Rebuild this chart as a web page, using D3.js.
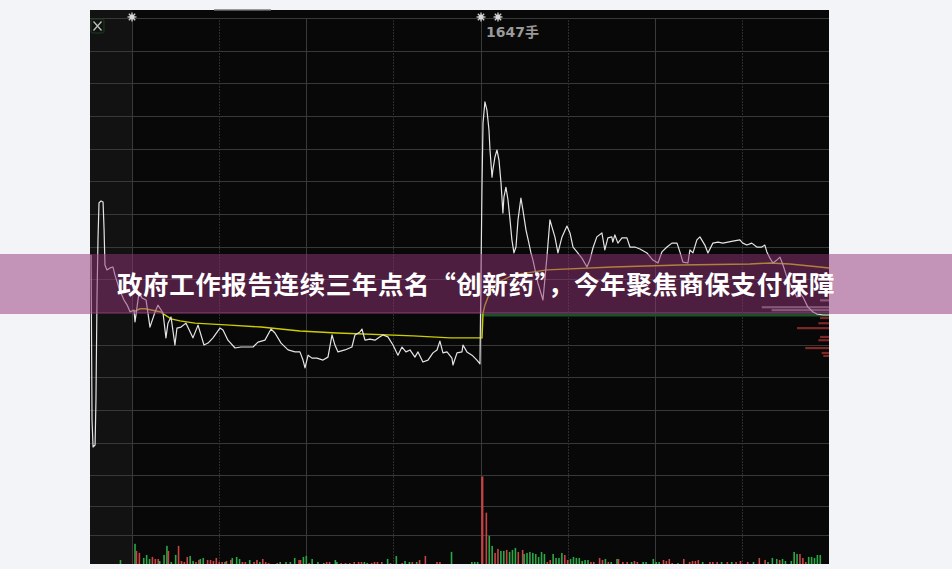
<!DOCTYPE html>
<html lang="zh-CN">
<head>
<meta charset="utf-8">
<script src="https://cdn.jsdelivr.net/npm/d3@7"></script>
<style>
body { margin: 0; background: #f3f4f8; }
svg { display: block; }
</style>
</head>
<body>
<div id="chart"></div>
<script>
// minute index (0 = first minute of day 1, 240 = day break), price as % change
var preTicks = [[-28.3,-0.25],[-27.6,-5.30],[-26.9,-6.13],[-25.5,-6.07],[-24.9,-4.69],[-24.2,-1.63],[-23.5,0.21],[-22.8,1.34],[-21.4,1.40],[-20.0,1.37],[-19.3,0.51],[-18.7,-0.56],[-17.3,-0.71],[-15.2,-0.65],[-13.2,-0.62],[-11.8,-0.87],[-9.7,-1.17],[-7.7,-1.42],[-5.6,-1.63],[-3.5,-1.78],[-1.4,-1.99]];

var day1Ticks = [[1.3,-1.94],[2.0,-2.30],[4.8,-1.39],[6.8,-1.57],[9.6,-1.63],[12.3,-2.46],[15.8,-2.00],[17.8,-1.79],[21.3,-2.03],[23.3,-2.79],[24.7,-2.34],[26.8,-2.15],[29.5,-3.01],[30.9,-2.49],[33.7,-2.46],[37.1,-2.34],[41.9,-2.79],[45.4,-2.40],[49.5,-3.01],[52.3,-2.95],[55.7,-2.79],[60.5,-2.49],[62.6,-2.55],[66.0,-2.86],[70.9,-3.10],[75.0,-3.07],[79.8,-3.07],[83.3,-3.07],[86.7,-2.92],[91.5,-2.86],[95.7,-2.52],[98.4,-2.64],[102.6,-2.95],[107.4,-3.16],[112.2,-3.22],[115.6,-3.22],[117.7,-3.47],[119.1,-3.71],[121.2,-3.32],[123.9,-3.41],[127.3,-3.41],[131.5,-3.47],[134.9,-3.38],[137.7,-2.70],[139.7,-3.01],[141.8,-3.22],[146.6,-3.16],[151.4,-3.07],[153.5,-2.70],[156.9,-2.61],[158.3,-2.52],[160.4,-2.86],[163.8,-2.83],[167.3,-2.86],[170.7,-2.76],[172.8,-2.70],[176.2,-2.76],[179.7,-3.01],[183.1,-3.32],[185.9,-3.07],[188.6,-3.22],[191.4,-3.16],[194.8,-3.38],[196.9,-3.22],[200.3,-3.53],[203.8,-3.47],[207.2,-3.25],[210.0,-3.16],[212.0,-2.89],[214.1,-3.25],[216.9,-3.22],[220.3,-3.41],[221.0,-3.62],[223.8,-3.25],[227.2,-3.22],[227.9,-3.01],[230.6,-3.22],[234.1,-3.32],[237.5,-3.47],[239.6,-3.59]];

var day2Ticks = [[241.0,1.88],[241.7,3.79],[243.0,4.43],[244.4,4.18],[245.8,3.57],[246.5,2.96],[247.9,2.13],[248.5,2.35],[249.9,2.74],[251.3,2.96],[252.7,2.65],[254.1,1.95],[255.4,1.03],[256.1,1.52],[257.5,1.82],[258.9,1.43],[260.3,0.82],[261.6,0.21],[263.0,-0.19],[264.4,-0.01],[265.8,0.82],[267.8,1.49],[269.2,1.12],[271.3,0.51],[273.3,0.11],[274.7,-0.19],[276.1,-0.41],[279.5,-1.11],[283.0,-1.63],[285.7,-0.32],[287.8,0.82],[289.2,0.60],[291.2,0.30],[293.3,-0.19],[296.1,0.30],[299.5,0.63],[301.6,0.42],[303.7,-0.01],[306.4,-0.16],[309.8,-0.35],[313.3,-0.62],[315.3,-0.41],[317.4,-0.04],[320.1,0.30],[323.6,0.42],[325.6,-0.10],[327.7,0.27],[330.4,0.30],[331.1,0.14],[332.5,0.36],[334.6,0.11],[337.4,0.27],[340.8,0.27],[342.9,-0.01],[346.3,-0.01],[349.8,-0.07],[354.6,-0.19],[358.7,-0.41],[362.2,-0.50],[364.9,-0.16],[368.4,-0.01],[371.8,0.11],[375.3,0.11],[377.3,-0.16],[379.4,-0.47],[382.8,-0.50],[384.2,-0.10],[386.3,-0.19],[389.0,0.21],[391.1,0.30],[394.5,0.05],[396.6,-0.19],[400.0,0.11],[403.5,0.14],[406.9,0.11],[410.3,0.14],[413.8,0.17],[418.6,0.21],[420.6,0.11],[423.4,0.05],[426.8,0.11],[430.3,-0.01],[433.7,-0.01],[435.8,0.05],[437.2,-0.16],[439.3,-0.35],[441.4,-0.50],[444.1,-0.41],[446.2,-0.32],[448.3,-0.56],[451.0,-0.93],[454.5,-1.24],[457.9,-1.54],[460.0,-1.42],[462.1,-1.54],[465.5,-1.85],[469.0,-2.00],[471.7,-2.06],[475.9,-2.09],[480.0,-2.09]];

var avgLine = [[1.3,-1.99],[5.4,-1.90],[8.9,-1.90],[19.2,-1.99],[26.8,-2.21],[33.0,-2.27],[43.3,-2.34],[67.4,-2.40],[88.8,-2.46],[115.6,-2.58],[141.1,-2.64],[193.5,-2.73],[219.0,-2.79],[239.6,-2.79],[241.0,-2.79],[241.7,-2.03],[243.0,-1.79],[246.5,-1.39],[251.3,-1.11],[262.3,-0.87],[285.7,-0.71],[331.1,-0.62],[377.3,-0.56],[425.5,-0.53],[439.3,-0.50],[453.1,-0.53],[466.9,-0.59],[480,-0.65]];

// [minute, volume in 手, r = up / g = down]
var volBars = [[-8,76,"g"],
[2,380,"g"],[3,247,"r"],[5,209,"r"],[8,114,"g"],[10,171,"g"],[12,95,"g"],[14,133,"r"],[16,95,"r"],[18,95,"r"],[19,57,"g"],[22,171,"g"],[24,342,"g"],[25,247,"r"],[27,38,"g"],[30,171,"g"],[32,342,"r"],[34,57,"r"],[36,38,"r"],[38,133,"r"],[40,152,"g"],[42,57,"g"],[44,38,"r"],[46,76,"r"],[47,95,"g"],[49,114,"g"],[52,76,"r"],[54,76,"r"],[56,57,"r"],[58,114,"r"],[60,38,"r"],[62,38,"r"],[64,38,"g"],[65,57,"r"],[68,76,"r"],[69,114,"g"],[72,133,"g"],[74,95,"g"],[76,38,"r"],[78,38,"r"],[81,76,"g"],[84,38,"r"],[86,76,"r"],[88,38,"g"],[90,95,"r"],[92,38,"r"],[94,19,"r"],[100,19,"r"],[102,38,"g"],[106,38,"g"],[109,38,"g"],[112,114,"g"],[115,76,"r"],[116,76,"r"],[118,133,"g"],[120,152,"g"],[122,19,"r"],[124,95,"g"],[128,38,"g"],[132,19,"g"],[134,38,"r"],[136,38,"r"],[140,76,"g"],[141,38,"g"],[144,19,"r"],[147,19,"r"],[150,19,"r"],[153,38,"r"],[156,38,"r"],[158,38,"r"],[160,38,"g"],[162,19,"g"],[165,19,"r"],[167,38,"r"],[169,38,"r"],[172,38,"r"],[176,95,"g"],[178,19,"r"],[182,152,"g"],[186,19,"r"],[188,57,"g"],[191,38,"g"],[193,38,"r"],[196,38,"g"],[198,76,"r"],[202,152,"r"],[210,38,"r"],[212,38,"r"],[220,228,"g"],[234,38,"g"],[236,38,"g"],[238,38,"g"],
[241,1647,"r"],[244,966,"r"],[246,530,"g"],[248,341,"g"],[250,208,"r"],[252,284,"r"],[254,246,"g"],[256,246,"g"],[258,265,"r"],[260,227,"g"],[262,265,"g"],[264,303,"g"],[266,227,"r"],[269,265,"r"],[270,189,"g"],[272,208,"g"],[274,227,"g"],[276,208,"g"],[278,189,"g"],[280,133,"g"],[282,227,"g"],[284,189,"g"],[286,38,"r"],[288,76,"r"],[290,189,"g"],[292,114,"g"],[294,114,"g"],[296,208,"g"],[298,170,"r"],[300,76,"r"],[302,95,"g"],[304,133,"g"],[306,114,"g"],[308,114,"g"],[310,57,"g"],[312,76,"g"],[314,76,"g"],[316,38,"r"],[318,38,"r"],[322,114,"r"],[324,76,"r"],[326,95,"g"],[328,38,"r"],[330,38,"g"],[334,95,"g"],[335,95,"r"],[338,38,"r"],[341,38,"r"],[344,38,"g"],[346,57,"r"],[348,38,"r"],[352,38,"g"],[354,38,"g"],[359,95,"g"],[361,38,"g"],[363,38,"g"],[366,76,"r"],[368,57,"r"],[370,95,"r"],[372,19,"r"],[376,19,"g"],[380,95,"r"],[384,38,"r"],[386,57,"r"],[388,57,"r"],[390,76,"r"],[393,38,"g"],[398,38,"r"],[400,38,"r"],[403,38,"r"],[406,38,"g"],[410,38,"r"],[413,38,"g"],[416,38,"r"],[419,57,"r"],[424,38,"r"],[428,38,"g"],[432,114,"r"],[436,76,"r"],[438,38,"g"],[441,114,"g"],[444,95,"g"],[446,76,"r"],[448,95,"g"],[450,57,"g"],[454,57,"g"],[456,227,"g"],[458,189,"g"],[460,189,"r"],[462,114,"r"],[464,38,"r"],[466,133,"g"],[468,133,"g"],[470,114,"g"],[472,170,"g"],[474,170,"g"]];

// chip distribution at the right edge: [price %, share, kind]
var chipLevels = [[-1.64,0.11,"gray"],[-1.85,0.82,"gray"],[-1.94,0.70,"gray"],[-2.18,0.11,"red"],[-2.34,0.13,"red"],[-2.49,0.39,"red"],[-2.76,0.11,"red"],[-2.86,0.13,"red"],[-3.10,0.29,"red"],[-3.25,0.09,"red"],[-3.34,0.07,"red"]];

var lastPrice = -2.06;
var markerTimes = [0, 240, 252];
var peakVolLabel = "1647手";
var titleText = "政府工作报告连续三年点名“创新药”，今年聚焦商保支付保障";

var width = 952, height = 569;
var plotLeft = 90, plotRight = 829, plotTop = 10, plotBottom = 564;

var svg = d3.select("#chart").append("svg")
    .attr("width", width)
    .attr("height", height);

var x = d3.scaleLinear().domain([-29, 480]).range([plotLeft, plotRight]);
var y = d3.scaleLinear().domain([-7, 7]).range([475.4, 18]);
var vy = d3.scaleLinear().domain([0, 1647]).range([plotBottom, 476.5]);
var chipScale = d3.scaleLinear().domain([0, 1]).range([0, 82]);

// background
svg.append("rect")
    .attr("x", plotLeft).attr("y", plotTop)
    .attr("width", plotRight - plotLeft).attr("height", plotBottom - plotTop)
    .attr("fill", "#080808");
svg.append("rect")
    .attr("x", plotLeft).attr("y", plotTop)
    .attr("width", x(0) - plotLeft).attr("height", plotBottom - plotTop)
    .attr("fill", "#121212");
svg.append("rect")
    .attr("x", 214).attr("y", 9)
    .attr("width", 57).attr("height", 1.5)
    .attr("fill", "#9a9a9e");

// horizontal grid
svg.selectAll(".hgrid")
    .data(d3.range(-7, 8))
    .enter().append("line")
    .attr("x1", plotLeft).attr("x2", plotRight)
    .attr("y1", function(d) { return Math.round(y(d)) + 0.5; })
    .attr("y2", function(d) { return Math.round(y(d)) + 0.5; })
    .attr("stroke", "#383838")
    .attr("stroke-width", 1);

svg.selectAll(".vgridv")
    .data([1647 / 3, 1647 * 2 / 3])
    .enter().append("line")
    .attr("x1", plotLeft).attr("x2", plotRight)
    .attr("y1", function(d) { return Math.round(vy(d)) + 0.5; })
    .attr("y2", function(d) { return Math.round(vy(d)) + 0.5; })
    .attr("stroke", "#383838");

// vertical grid
var solidTimes = [0, 120, 240, 360];
var dottedTimes = [60, 180, 300, 420];
svg.selectAll(".vsolid")
    .data(solidTimes)
    .enter().append("line")
    .attr("x1", function(d) { return Math.round(x(d)) + 0.5; })
    .attr("x2", function(d) { return Math.round(x(d)) + 0.5; })
    .attr("y1", 18).attr("y2", plotBottom)
    .attr("stroke", "#3a3a3a");
svg.selectAll(".vdot")
    .data(dottedTimes)
    .enter().append("line")
    .attr("x1", function(d) { return Math.round(x(d)) + 0.5; })
    .attr("x2", function(d) { return Math.round(x(d)) + 0.5; })
    .attr("y1", 20).attr("y2", plotBottom)
    .attr("stroke", "#2c2c2c")
    .attr("stroke-dasharray", "2,1");

// volume bars
svg.selectAll(".vol")
    .data(volBars)
    .enter().append("rect")
    .attr("x", function(d) { return x(d[0]) - 0.8; })
    .attr("width", function(d) { return d[1] > 1000 ? 2.2 : 1.6; })
    .attr("y", function(d) { return vy(d[1]); })
    .attr("height", function(d) { return plotBottom - vy(d[1]); })
    .attr("fill", function(d) { return d[2] === "r" ? "#c84444" : "#2aa846"; });

// chip distribution
svg.selectAll(".chip")
    .data(chipLevels)
    .enter().append("rect")
    .attr("x", function(d) { return plotRight - chipScale(d[1]); })
    .attr("width", function(d) { return chipScale(d[1]); })
    .attr("y", function(d) { return y(d[0]) - 1; })
    .attr("height", 2.2)
    .attr("fill", function(d) { return d[2] === "red" ? "#7e2828" : "#7a7a7a"; });

// last price band
svg.append("line")
    .attr("x1", x(240)).attr("x2", plotRight)
    .attr("y1", y(lastPrice) + 1).attr("y2", y(lastPrice) + 1)
    .attr("stroke", "#1b5229")
    .attr("stroke-width", 3);

var line = d3.line()
    .x(function(d) { return x(d[0]); })
    .y(function(d) { return y(d[1]); });

svg.append("path")
    .datum(avgLine)
    .attr("d", line)
    .attr("fill", "none")
    .attr("stroke", "#cccc00")
    .attr("stroke-width", 1.4);

svg.append("path")
    .datum(preTicks.concat(day1Ticks, day2Ticks))
    .attr("d", line)
    .attr("fill", "none")
    .attr("stroke", "#e4e4e4")
    .attr("stroke-width", 1.2)
    .attr("stroke-linejoin", "round");

// star markers at the top
markerTimes.forEach(function(t) {
    var g = svg.append("g")
        .attr("transform", "translate(" + Math.round(x(t)) + ",17)");
    for (var a = 0; a < 4; a++) {
        var ang = a * Math.PI / 4;
        g.append("line")
            .attr("x1", -4.5 * Math.cos(ang)).attr("y1", -4.5 * Math.sin(ang))
            .attr("x2", 4.5 * Math.cos(ang)).attr("y2", 4.5 * Math.sin(ang))
            .attr("stroke", "#cfcfcf")
            .attr("stroke-width", 1.3);
    }
    g.append("circle").attr("r", 2.5).attr("fill", "#d8d8d8");
});

// close box
svg.append("rect")
    .attr("x", 91).attr("y", 19)
    .attr("width", 13).attr("height", 14)
    .attr("rx", 2)
    .attr("fill", "#101410")
    .attr("stroke", "#1f3a22");
svg.append("path")
    .attr("d", "M93.5,21.5L101.5,30.5M101.5,21.5L93.5,30.5")
    .attr("stroke", "#c0c0c0")
    .attr("stroke-width", 1.3);

svg.append("text")
    .attr("x", 486)
    .attr("y", 37)
    .attr("font-family", "DejaVu Sans, Noto Sans CJK SC, sans-serif")
    .attr("font-size", "14px")
    .attr("font-weight", "bold")
    .attr("fill", "#9a9a9a")
    .text(peakVolLabel);

// title banner
svg.append("rect")
    .attr("x", 0).attr("y", 254)
    .attr("width", width).attr("height", 60)
    .attr("fill", "rgb(148,52,120)")
    .attr("fill-opacity", 0.5);

svg.append("text")
    .attr("x", 476)
    .attr("y", 294)
    .attr("text-anchor", "middle")
    .attr("font-family", "Noto Sans CJK SC, sans-serif")
    .attr("font-size", "25.5px")
    .attr("font-weight", "bold")
    .attr("letter-spacing", "0.6px")
    .attr("fill", "#ffffff")
    .text(titleText);
</script>
</body>
</html>
